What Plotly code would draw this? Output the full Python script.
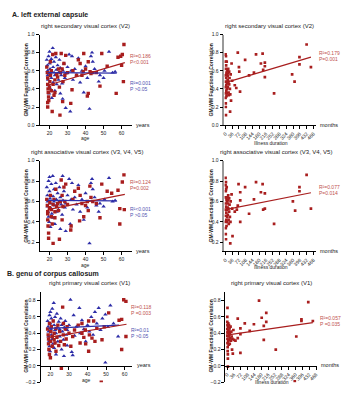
import plotly.graph_objects as go

# ---------------- data ----------------
# Panel A1: right secondary visual cortex (V2) vs age
a1_pat_age = [18.5,18.8,19,19,19.2,19.3,19.5,19,19,19.6,20,20.2,20.5,20.5,21,21,21.5,21.8,22,22.5,23,23,23.5,24,24.5,25,25.5,25.8,26,26.5,27,27.3,27.5,28,28.5,29,30,31.8,32.5,33,35,36,37,38,38.7,39,40,41,41.5,41.5,42.5,43,44,46,48,49,52,57,58,59.5,60.4,60,61,61.3]
a1_pat_r = [0.64,0.58,0.52,0.45,0.40,0.36,0.31,0.25,0.20,0.27,0.42,0.48,0.55,0.70,0.38,0.60,0.15,0.78,0.45,0.33,0.36,0.50,0.79,0.56,0.53,0.62,0.42,0.11,0.58,0.79,0.62,0.26,0.48,0.68,0.55,0.77,0.58,0.24,0.39,0.60,0.55,0.72,0.68,0.55,0.59,0.79,0.62,0.32,0.35,0.70,0.59,0.57,0.58,0.58,0.43,0.79,0.65,0.35,0.75,0.76,0.78,0.66,0.48,0.89]
a1_con_age = [18.5,18.8,19,19,19.2,19.5,19.5,19.8,20,20,20.3,20.5,20.5,21,21,21.3,21.8,22,22,22.5,22.5,23,23,23.5,23.8,24,24.5,25,25,25.5,26,26,26.5,27,27.3,27.5,28,28.5,29,29,30,30.9,31.5,32,32.5,33,34,35,36,37,38,39,40,41,42.2,43,43.6,44,45,46,47.3,48,50,50.5,53,55,56.4]
a1_con_r = [0.72,0.66,0.60,0.55,0.50,0.76,0.44,0.35,0.81,0.68,0.62,0.57,0.40,0.73,0.52,0.30,0.85,0.64,0.47,0.58,0.70,0.55,0.38,0.75,0.61,0.45,0.66,0.50,0.58,0.72,0.35,0.63,0.55,0.46,0.29,0.60,0.68,0.52,0.19,0.57,0.64,0.78,0.15,0.60,0.76,0.50,0.62,0.55,0.74,0.47,0.60,0.36,0.65,0.52,0.18,0.76,0.80,0.70,0.62,0.58,0.48,0.55,0.52,0.60,0.81,0.58,0.59]
a1_fit_pat_x = [19, 61.8]
a1_fit_pat_y = [0.44, 0.69]
a1_fit_con_x = [19, 57.3]
a1_fit_con_y = [0.58, 0.575]

# Panel A2: V2 vs illness duration
a2_dur = [1,1,2,1,2,1,2,1,2,2,3,3,4,4,5,5,6,6,7,8,8,9,10,11,12,12,13,14,15,16,17,18,20,20,22,24,25,26,28,30,33,36,50,58,66,72,74,78,105,126,152,163,189,198,201,210,210,210,259,355,368,394,394,432,455]
a2_r = [0.78,0.70,0.62,0.55,0.48,0.42,0.35,0.30,0.24,0.20,0.11,0.76,0.66,0.52,0.44,0.38,0.58,0.32,0.70,0.56,0.46,0.40,0.35,0.60,0.54,0.50,0.42,0.57,0.62,0.48,0.36,0.33,0.59,0.45,0.52,0.40,0.15,0.34,0.56,0.27,0.68,0.49,0.44,0.41,0.80,0.64,0.59,0.37,0.72,0.55,0.58,0.78,0.68,0.79,0.61,0.69,0.65,0.53,0.35,0.56,0.48,0.75,0.67,0.89,0.64]
a2_fit_x = [0, 455]
a2_fit_y = [0.47, 0.75]

# Panel A3: right associative visual cortex (V3, V4, V5) vs age
a3_pat_age = [18.5,18.8,19,19,19.2,19.5,19.5,19,20,20.2,20.5,21,21,21.5,22,22,22.5,23,23,23.5,24,24.5,25,25.5,26,26.5,27,27,27.5,28,28.5,29,30,31.8,32,33,34,36,36.7,37,38,39,40,41,41.5,42.4,43,44,46,48,49,52,54.5,58,59,59,60.4,61.5,61.3]
a3_pat_r = [0.62,0.56,0.50,0.42,0.36,0.29,0.24,0.48,0.54,0.59,0.66,0.45,0.52,0.38,0.19,0.57,0.62,0.50,0.44,0.72,0.55,0.58,0.51,0.23,0.60,0.81,0.66,0.42,0.55,0.74,0.60,0.77,0.57,0.32,0.36,0.62,0.70,0.73,0.41,0.66,0.58,0.45,0.56,0.60,0.51,0.75,0.64,0.60,0.58,0.44,0.77,0.70,0.68,0.71,0.53,0.38,0.79,0.52,0.86]
a3_con_age = [18.5,18.8,19,19,19.2,19.5,19.5,19.8,20,20,20.3,20.5,20.5,21,21,21.3,21.8,22,22,22.5,22.5,23,23,23.5,23.8,24,24.5,25,25,25.5,26,26,26.5,27,27.3,27.5,28,28.5,29,29,30,30.9,31.5,32,32.5,33,34,35,36,37,38,39,40,41,42.2,43,43.6,44,45,46,47.3,48,50,50.5,53,55,56.4]
a3_con_r = [0.74,0.66,0.60,0.55,0.50,0.80,0.45,0.40,0.84,0.70,0.63,0.58,0.35,0.77,0.53,0.48,0.85,0.65,0.44,0.60,0.72,0.56,0.38,0.78,0.62,0.50,0.68,0.52,0.59,0.74,0.33,0.64,0.57,0.47,0.85,0.61,0.70,0.54,0.31,0.58,0.66,0.82,0.38,0.62,0.78,0.52,0.64,0.57,0.76,0.50,0.62,0.42,0.68,0.54,0.19,0.78,0.82,0.72,0.64,0.56,0.50,0.58,0.55,0.62,0.83,0.60,0.61]
a3_fit_pat_x = [19, 61.8]
a3_fit_pat_y = [0.52, 0.67]
a3_fit_con_x = [19, 57.3]
a3_fit_con_y = [0.61, 0.605]

# Panel A4: V3-V5 vs illness duration
a4_dur = [1,1,2,1,2,1,2,1,2,2,3,3,4,4,5,5,6,6,7,8,8,9,10,11,12,12,13,14,15,16,17,18,20,20,22,24,26,27,28,38,33,36,50,61,66,70,79,79,79,105,126,152,163,189,198,201,210,210,259,359,371,394,394,432,455]
a4_r = [0.83,0.76,0.70,0.64,0.58,0.52,0.46,0.40,0.34,0.28,0.23,0.79,0.72,0.55,0.49,0.42,0.62,0.36,0.74,0.60,0.52,0.45,0.40,0.64,0.58,0.54,0.47,0.61,0.66,0.53,0.42,0.38,0.63,0.50,0.57,0.45,0.19,0.40,0.60,0.26,0.67,0.53,0.50,0.52,0.56,0.77,0.69,0.61,0.40,0.74,0.48,0.62,0.79,0.69,0.77,0.52,0.68,0.53,0.38,0.60,0.51,0.74,0.70,0.86,0.53]
a4_fit_x = [0, 455]
a4_fit_y = [0.52, 0.685]

# Panel B1: right primary visual cortex (V1) vs age
b1_pat_age = [18.5,18.8,19,19,19.2,19.5,19.5,20,20,20.2,20.5,21,21,21.5,22,22,22.5,23,23,23.5,24,24.5,25,25.5,25.9,26.6,27,27,27.5,28,28.5,29,30,31,32,33,35,36,37,37,38,38.8,39,40.6,40.6,41,42.4,43.3,44,45,47.4,47.8,49,51.4,57,58.4,58.4,60.7,59.5,60.7]
b1_pat_r = [0.45,0.38,0.33,0.27,0.20,0.14,0.52,0.10,0.30,0.42,0.48,0.36,0.24,0.55,0.40,0.32,0.28,0.46,0.18,0.35,0.50,0.25,0.42,0.30,-0.03,0.72,0.38,0.52,0.26,0.45,0.33,0.48,0.40,0.24,0.36,0.44,0.50,0.28,0.40,0.52,0.35,0.44,0.27,0.55,0.18,0.38,0.34,0.55,0.30,0.46,-0.20,0.32,0.48,0.65,0.56,0.57,0.20,0.36,0.81,0.79]
b1_con_age = [18.5,18.8,19,19,19.2,19.5,19.5,19.8,20,20,20.3,20.5,20.5,21,21,21.3,21.8,22,22,22.5,22.5,23,23,23.5,23.8,24,24.5,25,25,25.5,26,26,26.5,27,27.3,27.5,28,28.5,29,29,30,30.8,31.5,32,32.5,33,34,35.6,36,37,38,39,40,41,42,43,44,45,46,47,48,49.6,49.6,51,52.3,54,56.5]
b1_con_r = [0.55,0.48,0.42,0.36,0.30,0.62,0.24,0.18,0.66,0.52,0.45,0.38,0.58,0.70,0.33,0.27,0.77,0.50,0.22,0.44,0.60,0.40,0.14,0.64,0.47,0.30,0.54,0.36,0.45,0.58,0.20,0.50,0.42,0.32,0.12,0.47,0.55,0.38,0.25,0.44,0.50,0.81,0.17,0.13,0.62,0.37,0.48,0.71,0.40,0.56,0.45,0.30,0.50,0.42,0.60,0.38,0.66,0.52,0.71,0.44,0.58,0.63,0.04,0.48,0.74,0.52,0.36]
b1_fit_pat_x = [19, 61]
b1_fit_pat_y = [0.35, 0.51]
b1_fit_con_x = [19, 57]
b1_fit_con_y = [0.46, 0.50]

# Panel B2: V1 vs illness duration
b2_dur = [2,4,1,1,2,1,2,1,2,2,3,3,4,4,5,5,6,6,7,8,8,9,10,11,12,13,14,15,16,18,20,22,24,26,28,30,33,36,44,56,56,70,70,70,93,119,141,168,182,193,193,206,206,256,356,364,391,391,427,451]
b2_r = [0.71,-0.01,0.60,0.54,0.50,0.45,0.41,0.37,0.33,0.28,0.23,0.18,0.14,0.09,0.48,0.40,0.52,0.30,0.44,0.36,0.26,0.42,0.50,0.32,0.38,0.46,0.27,0.40,0.34,0.48,0.31,0.42,0.36,0.20,0.33,0.15,0.44,0.32,0.31,0.58,0.34,0.46,0.16,0.39,0.52,0.43,0.51,0.80,0.59,0.49,0.32,0.65,0.54,0.20,-0.19,0.36,0.57,0.55,0.78,0.55]
b2_fit_x = [5, 451]
b2_fit_y = [0.38, 0.53]

age_ticks = [20, 30, 40, 50, 60]
month_ticks = list(range(0, 469, 36))

# ---------------- style ----------------
W, H = 350, 400
RED = "#a81e1e"
BLUE = "#2e2ea8"
RED_TXT = "#c0504d"
BLUE_TXT = "#4f4fb0"
FONT = "Liberation Sans, Arial, sans-serif"

def fx(px):
    return px / W

def fy(py):
    return 1 - py / H

fig = go.Figure()

def axis_common():
    return dict(showline=True, linecolor="black", linewidth=1, ticks="outside",
                ticklen=3, tickwidth=1, tickcolor="black", showgrid=False,
                zeroline=False, tickfont=dict(size=5, family=FONT, color="#222"),
                fixedrange=True)

def add_panel(idx, xdom_px, ydom_px, xrange, yrange, yticks, xticks, months,
              xpos_px=None, ylinecolor="black", ylinewidth=1):
    xa = "xaxis" if idx == 1 else f"xaxis{idx}"
    ya = "yaxis" if idx == 1 else f"yaxis{idx}"
    xref = "x" if idx == 1 else f"x{idx}"
    yref = "y" if idx == 1 else f"y{idx}"
    xd = axis_common()
    xd.update(domain=[fx(xdom_px[0]), fx(xdom_px[1])], range=xrange,
              tickvals=xticks)
    if xpos_px is None:
        xd.update(anchor=yref)
    else:
        xd.update(anchor="free", position=fy(xpos_px))
    if months:
        xd.update(tickangle=-45)
    yd = axis_common()
    yd.update(domain=[fy(ydom_px[1]), fy(ydom_px[0])], range=yrange,
              tickvals=yticks, tickformat=".1f", anchor=xref, linecolor=ylinecolor,
              linewidth=ylinewidth)
    fig.update_layout(**{xa: xd, ya: yd})
    return xref, yref

def scatter(xref, yref, x, y, color, symbol, size):
    fig.add_trace(go.Scatter(x=x, y=y, mode="markers", xaxis=xref, yaxis=yref,
                             marker=dict(color=color, symbol=symbol, size=size,
                                         line=dict(width=0)),
                             showlegend=False, hoverinfo="skip"))

def line(xref, yref, x, y, color):
    fig.add_trace(go.Scatter(x=x, y=y, mode="lines", xaxis=xref, yaxis=yref,
                             line=dict(color=color, width=1.2),
                             showlegend=False, hoverinfo="skip"))

def text(x, y, s, size=6, color="#222", bold=False, xanchor="center", angle=0):
    if bold:
        s = f"<b>{s}</b>"
    fig.add_annotation(x=fx(x), y=fy(y), xref="paper", yref="paper", text=s,
                       showarrow=False, xanchor=xanchor, yanchor="middle",
                       textangle=angle, font=dict(size=size, color=color, family=FONT))

def stat(x, y, r2, p, color):
    text(x, y - 3, r2, size=5, color=color, xanchor="left")
    text(x, y + 3, p, size=5, color=color, xanchor="left")

yt_a = [0.0, 0.2, 0.4, 0.6, 0.8, 1.0]
yt_a3 = [0.2, 0.4, 0.6, 0.8, 1.0]
yt_b = [-0.2, 0.0, 0.2, 0.4, 0.6, 0.8]

PS, TS, RS = 3.4, 3.9, 2.7  # marker sizes

# Panel 1
x1, y1 = add_panel(1, (37, 130), (32, 124), [14.5, 65.5], [0, 1.0], yt_a, age_ticks, False)
scatter(x1, y1, a1_con_age, a1_con_r, BLUE, "triangle-up", TS)
scatter(x1, y1, a1_pat_age, a1_pat_r, RED, "square", PS)
line(x1, y1, a1_fit_con_x, a1_fit_con_y, BLUE)
line(x1, y1, a1_fit_pat_x, a1_fit_pat_y, RED)

# Panel 2
x2, y2 = add_panel(2, (224, 317), (32, 124), [-5, 484], [0, 1.0], yt_a, month_ticks, True,
                   ylinecolor="#999", ylinewidth=1.6)
scatter(x2, y2, a2_dur, a2_r, RED, "square", RS)
line(x2, y2, a2_fit_x, a2_fit_y, RED)

# Panel 3
x3, y3 = add_panel(3, (37, 130), (160, 252), [14.5, 65.5], [0.113, 1.0], yt_a3, age_ticks, False)
scatter(x3, y3, a3_con_age, a3_con_r, BLUE, "triangle-up", TS)
scatter(x3, y3, a3_pat_age, a3_pat_r, RED, "square", PS)
line(x3, y3, a3_fit_con_x, a3_fit_con_y, BLUE)
line(x3, y3, a3_fit_pat_x, a3_fit_pat_y, RED)

# Panel 4
x4, y4 = add_panel(4, (224, 317), (160, 252), [-5, 484], [0.113, 1.0], yt_a3, month_ticks, True,
                   ylinecolor="#999", ylinewidth=1.6)
scatter(x4, y4, a4_dur, a4_r, RED, "square", RS)
line(x4, y4, a4_fit_x, a4_fit_y, RED)

# Panel 5
x5, y5 = add_panel(5, (38, 130), (293, 385), [14.7, 63.7], [-0.2, 0.91], yt_b, age_ticks, False,
                   xpos_px=368.4)
scatter(x5, y5, b1_con_age, b1_con_r, BLUE, "triangle-up", TS)
scatter(x5, y5, b1_pat_age, b1_pat_r, RED, "square", PS)
line(x5, y5, b1_fit_con_x, b1_fit_con_y, BLUE)
line(x5, y5, b1_fit_pat_x, b1_fit_pat_y, RED)

# Panel 6
x6, y6 = add_panel(6, (225, 318), (293, 385), [-8.8, 474.8], [-0.2, 0.91], yt_b, month_ticks, True,
                   xpos_px=368.4)
scatter(x6, y6, b2_dur, b2_r, RED, "square", RS)
line(x6, y6, b2_fit_x, b2_fit_y, RED)

# ---------------- texts ----------------
text(7, 12, "A. left external capsule", size=7, bold=True, xanchor="left")
text(2, 275, "B. genu of corpus callosum", size=7, bold=True, xanchor="left")

text(83, 23, "right secondary visual cortex (V2)", size=6)
text(270, 23, "right secondary visual cortex (V2)", size=6)
text(85, 151, "right associative visual cortex (V3, V4, V5)", size=6)
text(276, 151, "right associative visual cortex (V3, V4, V5)", size=6)
text(87, 284, "right primary visual cortex (V1)", size=6)
text(272, 284, "right primary visual cortex (V1)", size=6)

ylab = "GM-WM Functional Correlation"
for xx, yy in [(23, 78), (23, 206), (23, 338), (210, 78), (210, 206), (210, 338)]:
    text(xx, yy, ylab, size=5, bold=True, angle=-90)

for yy in [124, 252]:
    text(133, yy, "years", size=5.5, xanchor="left")
    text(319, yy, "months", size=5.5, xanchor="left")
text(134, 368, "years", size=5.5, xanchor="left")
text(320, 368, "months", size=5.5, xanchor="left")

text(83, 137, "age", size=5)
text(83, 266, "age", size=5)
text(84, 383, "age", size=5)
text(271, 142, "Illness duration", size=5)
text(271, 268, "Illness duration", size=5)
text(272, 385, "Illness duration", size=5)

# statistics
stat(126, 57, "R²=0.186", "P&lt;0.001", RED_TXT)
stat(126, 84, "R²=0.001", "P &gt;0.05", BLUE_TXT)
stat(318, 54, "R²=0.179", "P=0.001", RED_TXT)
stat(126, 185, "R²=0.124", "P=0.002", RED_TXT)
stat(126, 212, "R²&lt;0.001", "P &gt;0.05", BLUE_TXT)
stat(318, 190, "R²=0.077", "P=0.014", RED_TXT)
stat(127, 312, "R²=0.118", "P =0.003", RED_TXT)
stat(127, 335, "R²=0.01", "P &gt;0.05", BLUE_TXT)
stat(319, 323, "R²=0.057", "P =0.035", RED_TXT)

fig.update_layout(width=W, height=H, margin=dict(l=0, r=0, t=0, b=0),
                  paper_bgcolor="white", plot_bgcolor="white",
                  font=dict(family=FONT), showlegend=False)

fig.write_html("out.html", config={"displayModeBar": False},
               post_script=["document.body.style.margin='0';"
                            "document.body.style.overflow='hidden';"])
